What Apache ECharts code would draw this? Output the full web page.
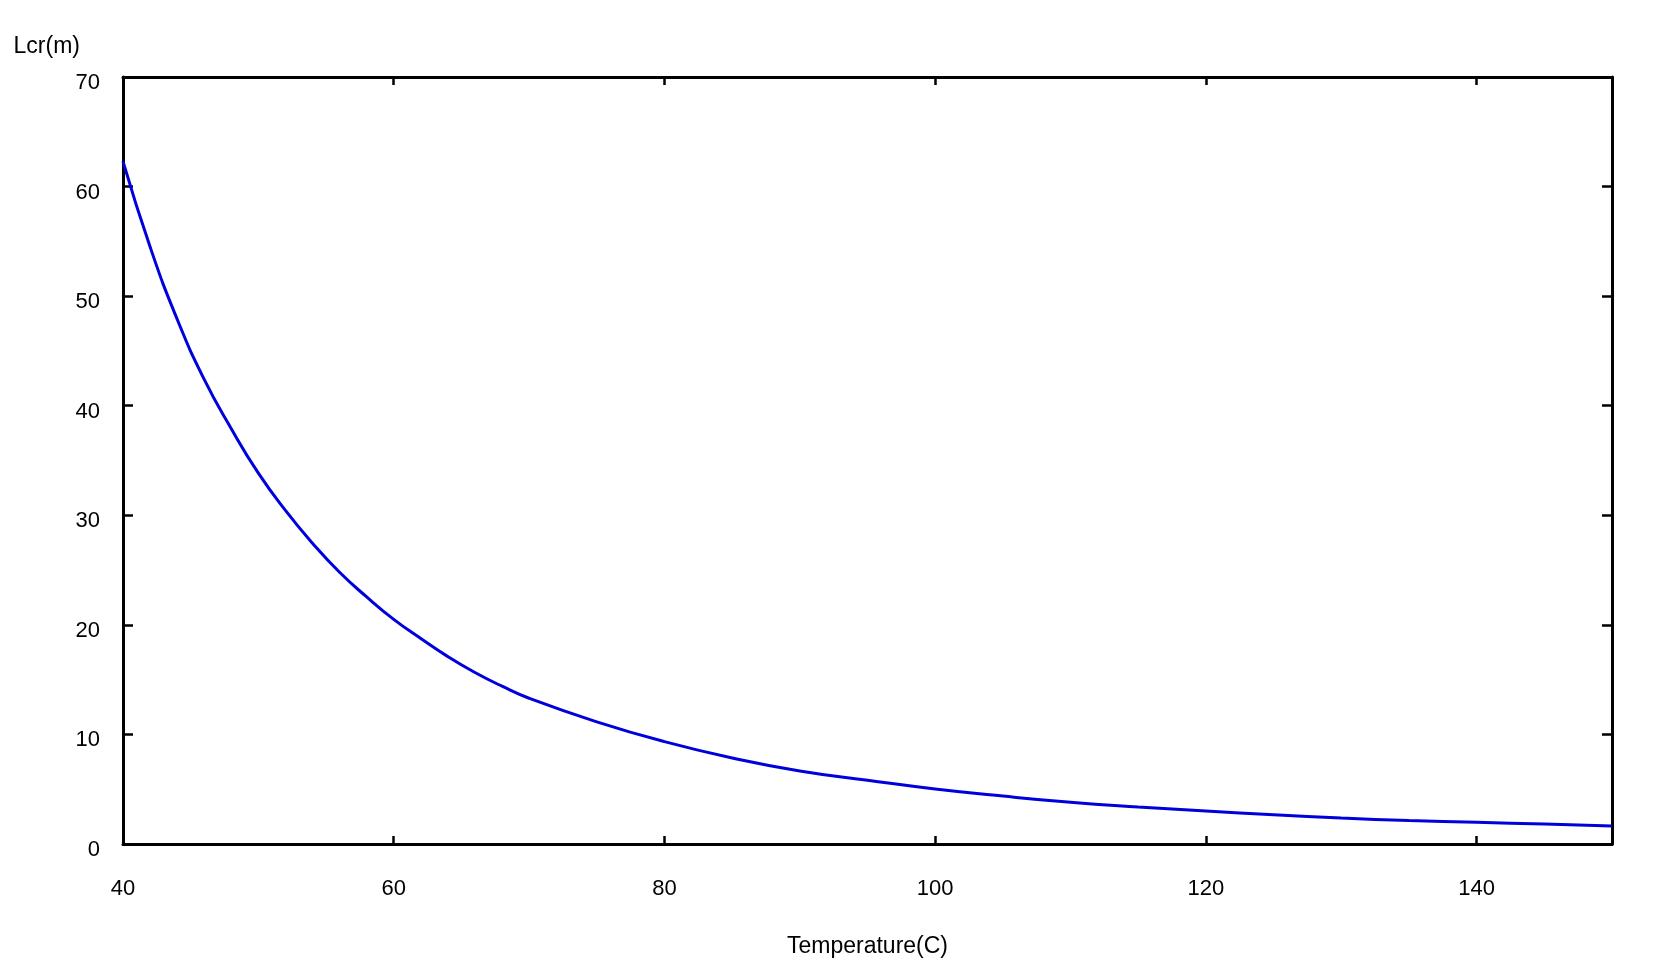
<!DOCTYPE html>
<html>
<head>
<meta charset="utf-8">
<script src="https://cdn.jsdelivr.net/npm/echarts@6/dist/echarts.min.js"></script>
<style>
  html, body { margin: 0; padding: 0; background: #fff; }
  #chart { width: 1680px; height: 969px; }
</style>
</head>
<body>
<div id="chart"></div>
<script>
// temperature (C) and critical length Lcr (m)
const temps = [40, 42, 44, 46, 48, 50, 52, 54, 56, 58, 60, 62, 64, 66, 68, 70, 75, 80, 85, 90, 95, 100, 105, 110, 115, 120, 125, 130, 135, 140, 145, 150];
const lcr = [62.3, 54.5, 47.9, 42.4, 37.9, 33.85, 30.45, 27.45, 24.8, 22.55, 20.5, 18.75, 17.1, 15.65, 14.4, 13.3, 11.15, 9.34, 7.85, 6.67, 5.82, 5.02, 4.37, 3.81, 3.38, 3.01, 2.67, 2.37, 2.14, 1.98, 1.82, 1.64];

const xName = "Temperature(C)";
const yName = "Lcr(m)";

const font = "'Liberation Sans', Arial, sans-serif";
const lineStyle = { color: "#000", width: 3 };
const tickStyle = { color: "#000", width: 2.5 };

const chart = echarts.init(document.getElementById("chart"));
chart.setOption({
  animation: false,
  backgroundColor: "#fff",
  grid: { left: 123, top: 77, right: 68, bottom: 125 },
  xAxis: [
    {
      type: "value",
      min: 40,
      max: 150,
      interval: 20,
      name: xName,
      nameLocation: "middle",
      nameGap: 103,
      nameTextStyle: { color: "#000", fontSize: 23, fontFamily: font, verticalAlign: "middle" },
      axisLine: { show: true, onZero: false, lineStyle: lineStyle },
      axisTick: { show: true, inside: true, length: 8, lineStyle: tickStyle },
      axisLabel: { color: "#000", fontSize: 22, fontFamily: font, margin: 34, showMaxLabel: false },
      splitLine: { show: false },
    },
    {
      type: "value",
      position: "top",
      min: 40,
      max: 150,
      interval: 20,
      axisLine: { show: true, onZero: false, lineStyle: lineStyle },
      axisTick: { show: true, inside: true, length: 8, lineStyle: tickStyle },
      axisLabel: { show: false },
      splitLine: { show: false },
    },
  ],
  yAxis: [
    {
      type: "value",
      min: 0,
      max: 70,
      interval: 10,
      name: yName,
      nameLocation: "end",
      nameGap: 30,
      nameTextStyle: { color: "#000", fontSize: 23, fontFamily: font, align: "right", verticalAlign: "middle", padding: [0, 43, 0, 0] },
      axisLine: { show: true, onZero: false, lineStyle: lineStyle },
      axisTick: { show: true, inside: true, length: 10, lineStyle: tickStyle },
      axisLabel: { color: "#000", fontSize: 22, fontFamily: font, margin: 23, verticalAlign: "top", lineHeight: 12 },
      splitLine: { show: false },
    },
    {
      type: "value",
      position: "right",
      min: 0,
      max: 70,
      interval: 10,
      axisLine: { show: true, onZero: false, lineStyle: lineStyle },
      axisTick: { show: true, inside: true, length: 10, lineStyle: tickStyle },
      axisLabel: { show: false },
      splitLine: { show: false },
    },
  ],
  series: [
    {
      name: yName,
      type: "line",
      xAxisIndex: 0,
      yAxisIndex: 0,
      smooth: true,
      showSymbol: false,
      lineStyle: { color: "#0000dd", width: 3 },
      data: temps.map((t, i) => [t, lcr[i]]),
    },
  ],
});
</script>
</body>
</html>
